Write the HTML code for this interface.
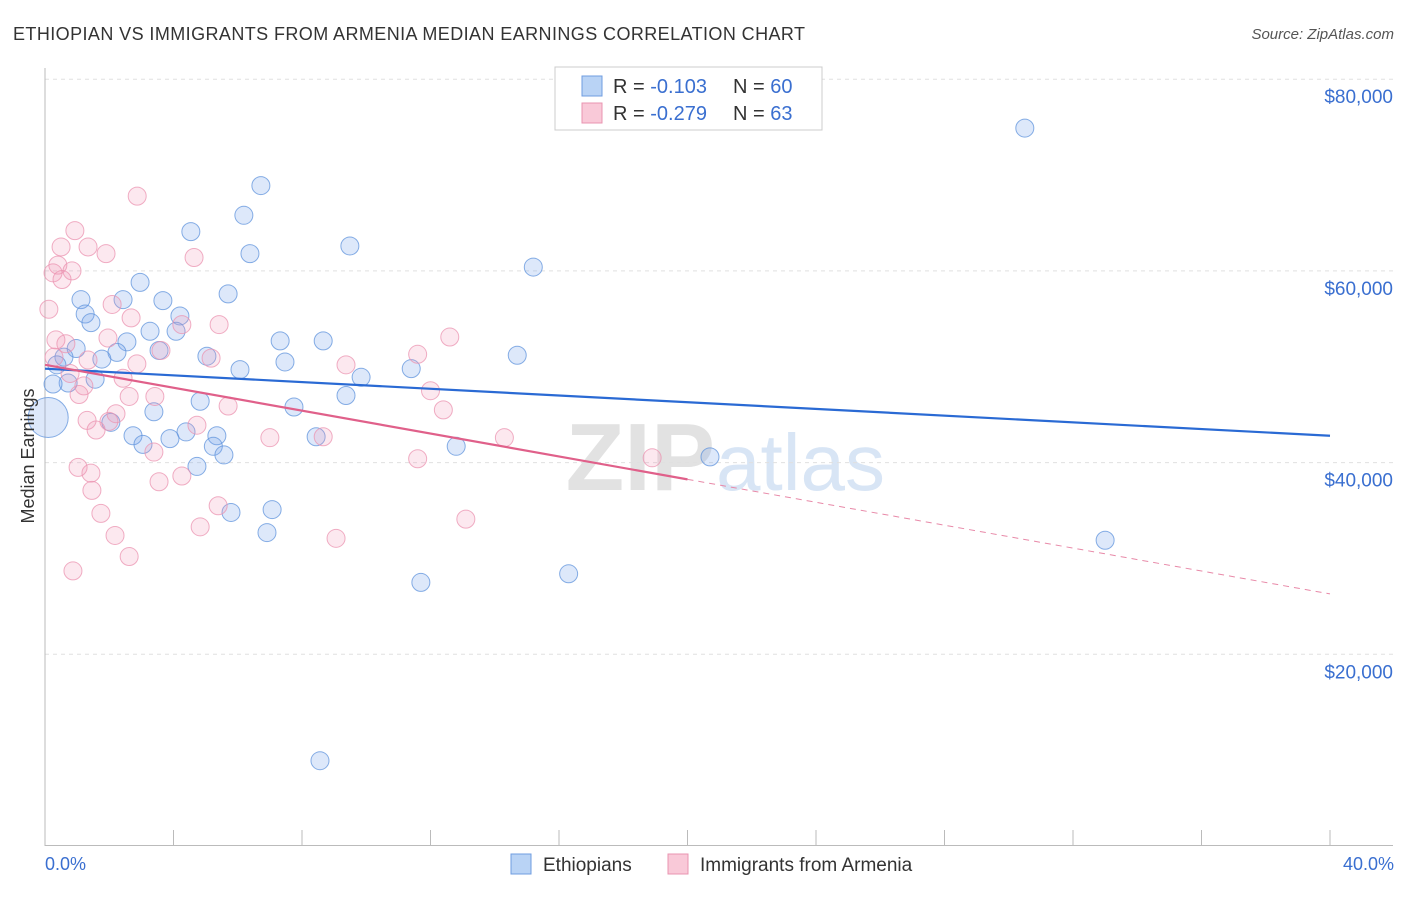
<!DOCTYPE html>
<html><head><meta charset="utf-8"><style>
body{margin:0;background:#fff;font-family:"Liberation Sans",sans-serif;}
svg text{font-family:"Liberation Sans",sans-serif;}
</style></head><body>
<svg id="chart" width="1406" height="892">
<text x="13" y="40" font-size="18" fill="#333" textLength="792" lengthAdjust="spacing">ETHIOPIAN VS IMMIGRANTS FROM ARMENIA MEDIAN EARNINGS CORRELATION CHART</text>
<text x="1394" y="39" font-size="15" fill="#555" font-style="italic" text-anchor="end">Source: ZipAtlas.com</text>
<text x="715" y="490" font-size="96" font-weight="bold" fill="#e2e2e2" text-anchor="end">ZIP</text>
<text x="716" y="490" font-size="80" fill="#d8e5f5">atlas</text>
<g id="grid"></g>
<g id="axes"></g>
<g id="marks"></g>
<text transform="translate(34,456) rotate(-90)" font-size="18" fill="#333" text-anchor="middle">Median Earnings</text>
<text x="45" y="870" font-size="18" fill="#3a6fd0">0.0%</text>
<text x="1394" y="870" font-size="18" fill="#3a6fd0" text-anchor="end">40.0%</text>
<g>
<rect x="555" y="67" width="267" height="63" fill="#fff" stroke="#ccc"/>
<rect x="582" y="76" width="20" height="20" fill="#b9d3f5" stroke="#6f9de0"/>
<rect x="582" y="103" width="20" height="20" fill="#f9c9d8" stroke="#e994b0"/>
<text x="613" y="93" font-size="20" fill="#333">R = <tspan fill="#3a6fd0">-0.103</tspan><tspan x="733">N = </tspan><tspan fill="#3a6fd0">60</tspan></text>
<text x="613" y="120" font-size="20" fill="#333">R = <tspan fill="#3a6fd0">-0.279</tspan><tspan x="733">N = </tspan><tspan fill="#3a6fd0">63</tspan></text>
</g>
<g>
<rect x="511" y="854" width="20" height="20" fill="#b9d3f5" stroke="#6f9de0"/>
<text x="543" y="871" font-size="19" fill="#333">Ethiopians</text>
<rect x="668" y="854" width="20" height="20" fill="#f9c9d8" stroke="#e994b0"/>
<text x="700" y="871" font-size="19" fill="#333">Immigrants from Armenia</text>
</g>
</svg>
<script>
const yTicks=[20000,40000,60000,80000];
const yTickLabels=["$20,000","$40,000","$60,000","$80,000"];
const blueX=[30.5,6.72,6.19,4.54,9.49,6.38,15.2,2.96,1.12,2.43,3.67,5.70,1.25,1.43,4.20,3.27,4.08,7.32,8.66,2.55,0.97,3.55,2.24,1.77,0.59,5.04,14.7,7.47,11.4,6.07,0.37,9.84,1.56,0.72,0.25,9.37,4.83,7.75,3.39,2.05,4.39,2.74,5.35,3.89,8.44,5.24,3.05,12.8,5.57,20.7,4.73,7.07,5.79,6.91,33.0,16.3,11.7,8.56,0.1];
const blueY=[74.9,68.9,65.8,64.1,62.6,61.8,60.4,58.8,57.0,57.0,56.9,57.6,55.5,54.6,55.3,53.7,53.7,52.7,52.7,52.6,51.9,51.7,51.5,50.8,51.0,51.1,51.2,50.5,49.8,49.7,50.2,48.9,48.7,48.3,48.2,47.0,46.4,45.8,45.3,44.2,43.2,42.8,42.8,42.5,42.7,41.7,41.9,41.7,40.8,40.6,39.6,35.1,34.8,32.7,31.9,28.4,27.5,8.9,44.7];
const blueR=[9,9,9,9,9,9,9,9,9,9,9,9,9,9,9,9,9,9,9,9,9,9,9,9,9,9,9,9,9,9,9,9,9,9,9,9,9,9,9,9,9,9,9,9,9,9,9,9,9,9,9,9,9,9,9,9,9,9,20];
const pinkX=[2.87,0.93,0.50,1.34,1.90,4.64,0.40,0.84,0.25,0.53,2.09,0.12,2.68,4.26,5.42,12.6,0.34,0.65,1.96,3.61,11.6,5.17,1.34,0.28,2.86,9.37,0.78,2.43,1.21,12.0,1.06,2.62,3.42,12.4,5.70,2.21,1.31,1.99,4.73,1.59,7.00,8.66,14.3,3.39,11.6,18.9,1.03,1.43,4.26,3.55,1.46,5.39,1.74,13.1,4.83,2.18,9.06,2.62,0.87];
const pinkY=[67.8,64.2,62.5,62.5,61.8,61.4,60.6,60.0,59.8,59.1,56.5,56.0,55.1,54.4,54.4,53.1,52.8,52.4,53.0,51.7,51.3,50.9,50.7,51.0,50.3,50.2,49.3,48.8,48.0,47.5,47.1,46.9,46.9,45.5,45.9,45.1,44.4,44.3,43.9,43.4,42.6,42.7,42.6,41.1,40.4,40.5,39.5,38.9,38.6,38.0,37.1,35.5,34.7,34.1,33.3,32.4,32.1,30.2,28.7];
const trendBlue=[49.8,42.8];
const trendPink=[50.2,26.3];
const NS="http://www.w3.org/2000/svg";
const X=v=>45+v/40*1285;
const Y=v=>846-v/20*191.7;
const grid=document.getElementById('grid'),axes=document.getElementById('axes'),marks=document.getElementById('marks');
function mk(tag,at,parent){const e=document.createElementNS(NS,tag);for(const k in at)e.setAttribute(k,at[k]);parent.appendChild(e);return e;}
yTicks.forEach((t,i)=>{
 const y=Y(t/1000);
 const l=mk('line',{x1:45,x2:1393,y1:y,y2:y,stroke:'#e0e0e0','stroke-dasharray':'4,4'},grid);
 
 
 const tx=mk('text',{x:1393,y:y+24,'font-size':19,fill:'#3a6fd0','text-anchor':'end'},grid);
 tx.textContent=yTickLabels[i];
 
 
});
const ya=mk('line',{x1:45,x2:45,y1:68,y2:846,stroke:'#bbb'},axes);


const xa=mk('line',{x1:45,x2:1393,y1:845.5,y2:845.5,stroke:'#bbb'},axes);


for(let k=0;k<=10;k++){
 const tk=mk('line',{x1:X(k*4),x2:X(k*4),y1:830,y2:846,stroke:'#bbb'},axes);
 
 
}
function dots(xs,ys,rs,fill,stroke,name){
 xs.forEach((x,i)=>{
  const c=mk('circle',{cx:X(x),cy:Y(ys[i]),r:rs?rs[i]:9,fill:fill,stroke:stroke,'stroke-width':1,'stroke-opacity':0.75},marks);
  
  
 });
}
dots(blueX,blueY,blueR,'rgba(120,165,235,0.25)','#5f93dc','ethiopian-point');
dots(pinkX,pinkY,null,'rgba(240,150,180,0.22)','#eb93b0','armenia-point');
const tb=mk('line',{x1:X(0),y1:Y(trendBlue[0]),x2:X(40),y2:Y(trendBlue[1]),stroke:'#2a6ad4','stroke-width':2.2},marks);


const pm=trendPink[0]+(trendPink[1]-trendPink[0])*0.5;
const tp=mk('line',{x1:X(0),y1:Y(trendPink[0]),x2:X(20),y2:Y(pm),stroke:'#e0608a','stroke-width':2.2},marks);


const tpd=mk('line',{x1:X(20),y1:Y(pm),x2:X(40),y2:Y(trendPink[1]),stroke:'#e889a8','stroke-width':1,'stroke-dasharray':'6,5'},marks);


</script>
</body></html>
